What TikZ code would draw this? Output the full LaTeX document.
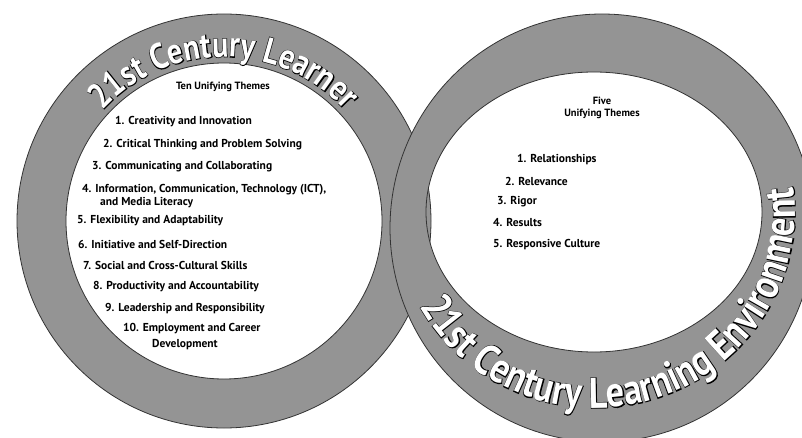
\documentclass[tikz,border=0pt]{standalone}
\usepackage{fontspec}
\setmainfont{PT Sans}
\newfontfamily\ringfont{PT Sans Bold}[FakeStretch=0.84]
\newfontfamily\ringedge{PT Sans Bold}[FakeStretch=0.84, FakeBold=3]
\usetikzlibrary{decorations.text}
\tikzset{%
  % Specifications for style of rings and texts:
          ring/.style = {fill=black!42, draw=black!80, line width=0.8pt,
                         even odd rule},
         items/.style = {anchor=west, inner sep=0pt,
                         font=\bfseries\fontsize{11.5}{13}\selectfont},
         heads/.style = {inner sep=0pt, align=center,
                         font=\bfseries\fontsize{10.5}{12.5}\selectfont},
      ringtext/.style = {decorate, decoration={text along path,
                         text align=center, text={#1}}},
}

\begin{document}
\begin{tikzpicture}[x=1pt, y=1pt]
  \useasboundingbox (0,0) rectangle (802,437);
  \clip (0,0) rectangle (802,437);
  % Specification of the two rings
  \path[ring] (224,216) circle[radius=207pt] (224,216) circle[radius=158pt];
  \path[ring] (602,209) ellipse[x radius=212pt, y radius=214pt]
              (594,225) ellipse[x radius=168pt, y radius=140pt];
  % Titles on the rings, black edge first and white letters on top
  \path[ringtext={|\ringedge\fontsize{36}{36}\selectfont|21st Century Learner},
        decoration={text color=black}]
    (224,216) ++(180:164pt) arc[start angle=180, end angle=0, radius=164pt];
  \path[ringtext={|\ringfont\fontsize{36}{36}\selectfont|21st Century Learner},
        decoration={text color=white}]
    (224,216) ++(180:164pt) arc[start angle=180, end angle=0, radius=164pt];
  \path[ringtext={|\ringedge\fontsize{43}{43}\selectfont|21st Century Learning Environment},
        decoration={text color=black}]
    (595,225) ++(177:200pt and 196pt)
    arc[start angle=177, end angle=399, x radius=200pt, y radius=196pt];
  \path[ringtext={|\ringfont\fontsize{43}{43}\selectfont|21st Century Learning Environment},
        decoration={text color=white}]
    (595,225) ++(177:200pt and 196pt)
    arc[start angle=177, end angle=399, x radius=200pt, y radius=196pt];
  % Specification of the themes inside the left ring
  \node (ten) [heads] at (223,350) {Ten Unifying Themes};
  \node (l1)  [items] at (115,315) {1. Creativity and Innovation};
  \node (l2)  [items] at (103,292) {2. Critical Thinking and Problem Solving};
  \node (l3)  [items] at (92,270)  {3. Communicating and Collaborating};
  \node (l4)  [items] at (82,247)  {4. Information, Communication, Technology (ICT),};
  \node (l4b) [items] at (100,234) {and Media Literacy};
  \node (l5)  [items] at (77,216)  {5. Flexibility and Adaptability};
  \node (l6)  [items] at (78,193)  {6. Initiative and Self-Direction};
  \node (l7)  [items] at (83,172)  {7. Social and Cross-Cultural Skills};
  \node (l8)  [items] at (93,150)  {8. Productivity and Accountability};
  \node (l9)  [items] at (105,128) {9. Leadership and Responsibility};
  \node (l10) [items] at (123,108) {10. Employment and Career};
  \node (l10b)[items] at (152,92)  {Development};
  % Specification of the themes inside the right ring
  \node (five) [heads] at (602,329) {Five\\Unifying Themes};
  \node (r1) [items] at (517,277) {1. Relationships};
  \node (r2) [items] at (505,256) {2. Relevance};
  \node (r3) [items] at (497,235) {3. Rigor};
  \node (r4) [items] at (493,215) {4. Results};
  \node (r5) [items] at (493,192) {5. Responsive Culture};
\end{tikzpicture}
\end{document}
